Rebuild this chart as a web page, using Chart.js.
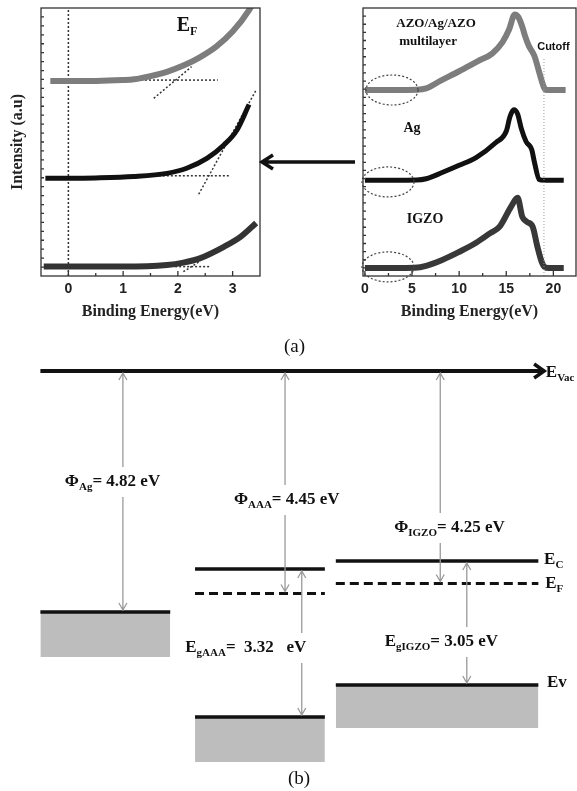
<!DOCTYPE html>
<html>
<head>
<meta charset="utf-8">
<script src="https://cdn.jsdelivr.net/npm/chart.js@4.4.0/dist/chart.umd.min.js"></script>
<style>
  html, body { margin: 0; padding: 0; background: #fff; }
  #page { position: relative; width: 577px; height: 791px; overflow: hidden; }
  .box { position: absolute; }
  .cap { position: absolute; font-family: "Liberation Serif", "Times New Roman", serif; font-size: 19px; line-height: 20px; color: #111; }
</style>
</head>
<body>
<div id="page">
  <div class="box" style="left:0;top:0"><canvas id="onsetChart" width="365" height="330"></canvas></div>
  <div class="box" style="left:290px;top:0"><canvas id="cutoffChart" width="287" height="330"></canvas></div>
  <div class="box" style="left:0;top:335px"><canvas id="bandChart" width="577" height="456"></canvas></div>
  <div class="cap" style="left:284px;top:336px">(a)</div>
  <div class="cap" style="left:288px;top:768px">(b)</div>
</div>
<script>
// (a) left: onset near E_F, binding energy (eV) / intensity (a.u.)
const onsetAzoE = [-0.33, 0, 0.5, 1.0, 1.2, 1.5, 1.8, 2.1, 2.4, 2.7, 3.0, 3.3, 3.4];
const onsetAzoI = [72.8, 72.8, 72.8, 73.1, 73.4, 74.6, 76.2, 78.5, 81.6, 85.6, 91.2, 99.2, 103];
const onsetAgE = [-0.42, 0, 0.5, 1.2, 1.8, 2.16, 2.53, 2.84, 3.08, 3.3];
const onsetAgI = [36.5, 36.5, 36.6, 37.1, 38.3, 40.2, 43.9, 48.9, 54.5, 64];
const onsetIgzoE = [-0.45, 0, 1.0, 1.8, 2.1, 2.4, 2.84, 3.15, 3.43];
const onsetIgzoI = [3.5, 3.5, 3.5, 4.1, 5, 6.6, 10.9, 14.7, 19.8];
// dotted extrapolation lines [start, end]
const tangentE = [[1.18, 2.73], [1.56, 2.25], [1.36, 2.95], [2.38, 3.43], [1.95, 2.6], [2.1, 2.39]];
const tangentI = [[73.1, 73.1], [66.3, 78.1], [37.4, 37.4], [30.5, 69.4], [3.5, 3.5], [1.6, 5.3]];
const onsetTicks = [0, 0.5, 1, 1.5, 2, 2.5, 3];

// (a) right: full spectra with secondary electron cutoff
const specAzoE = [0, 3, 5.5, 6.5, 8, 10, 12, 13.5, 14.6, 15.3, 15.9, 16.3, 16.7, 17.0, 17.4, 18.0, 18.5, 19.0, 19.3, 20, 21.3];
const specAzoI = [69.4, 69.4, 69.5, 70, 72.8, 76.4, 80.2, 83, 87.3, 92, 97.6, 96.5, 93, 89.5, 85.8, 82, 76, 70.4, 69.4, 69.4, 69.4];
const specAgE = [0, 3, 5.5, 6.5, 8.2, 10, 11.8, 13.9, 15, 15.4, 15.8, 16.2, 16.6, 17.1, 17.7, 18.0, 18.5, 19, 20, 21.1];
const specAgI = [35.7, 35.7, 35.8, 36.3, 38.6, 41.3, 44.2, 49.8, 54, 59.5, 62, 60.5, 55, 50.2, 47.2, 42.3, 36, 35.7, 35.7, 35.7];
const specIgzoE = [0, 3, 5.3, 6.5, 8.2, 10, 11.8, 13.3, 14.3, 15.5, 16.2, 16.7, 17.2, 17.8, 18.3, 18.8, 19.2, 20, 21.1];
const specIgzoI = [3, 3, 3.1, 3.8, 6, 9, 12.4, 16, 18.4, 25.8, 29.2, 22.1, 20.2, 18.4, 11, 4.9, 3.1, 3, 3];
const cutoffE = 19;
const specTicks = [0, 2.5, 5, 7.5, 10, 12.5, 15, 17.5, 20];

// (b) band diagram, energies in eV below vacuum level
const bandNames = ['Ag', 'AAA', 'IGZO'];
const workFunc = [4.82, 4.45, 4.25];
const bandGap = [null, 3.32, 3.05];
const levelEc = [null, -3.96, -3.8];
const levelEv = [null, -6.92, -6.28];
const blockBottom = [-5.72, -7.82, -7.14];
const colLeft = [0.7, 3.38, 5.82];
const colRight = [2.95, 5.63, 9.33];

const serif = '"Liberation Serif", "Times New Roman", serif';
const sans = '"Liberation Sans", Arial, sans-serif';

function pts(xs, ys) { return xs.map((v, i) => ({ x: v, y: ys[i] })); }
function seg(x0, x1, yv) { return [{ x: x0, y: yv }, { x: x1, y: yv }]; }

function richText(ctx, x, y, parts, size, align) {
  // parts alternate: normal, subscript, normal ...
  ctx.save();
  ctx.textBaseline = 'middle';
  ctx.fillStyle = '#111';
  const fonts = parts.map((p, i) => 'bold ' + (i % 2 ? Math.round(size * 0.62) : size) + 'px ' + serif);
  const widths = parts.map((p, i) => { ctx.font = fonts[i]; return ctx.measureText(p).width; });
  let cx = x;
  if (align === 'center') cx -= widths.reduce((s, w) => s + w, 0) / 2;
  parts.forEach((p, i) => {
    ctx.font = fonts[i];
    ctx.fillText(p, cx, y + (i % 2 ? size * 0.3 : 0));
    cx += widths[i];
  });
  ctx.restore();
}

function frameTicks(chart, yDivs) {
  const { ctx, chartArea: a, scales: { x, y } } = chart;
  ctx.save();
  ctx.strokeStyle = '#333';
  ctx.lineWidth = 1.3;
  ctx.strokeRect(a.left, a.top, a.right - a.left, a.bottom - a.top);
  ctx.beginPath();
  x.ticks.forEach(t => {
    const px = x.getPixelForValue(t.value);
    const len = t.label !== '' ? 5 : 3;
    ctx.moveTo(px, a.bottom); ctx.lineTo(px, a.bottom - len);
  });
  for (let i = 1; i < yDivs; i++) {
    const py = y.getPixelForValue(y.min + (y.max - y.min) * i / yDivs);
    ctx.moveTo(a.left, py); ctx.lineTo(a.left + 3, py);
  }
  ctx.stroke();
  ctx.restore();
}

function xAxis(min, max, ticks, every) {
  return {
    type: 'linear', min: min, max: max,
    afterBuildTicks: s => { s.ticks = ticks.map(v => ({ value: v })); },
    afterFit: s => { s.height = 49; },
    grid: { display: false, drawTicks: false },
    border: { display: false },
    ticks: {
      autoSkip: false, maxRotation: 0, padding: 5, color: '#222',
      font: { family: sans, size: 14, weight: 'bold' },
      callback: v => (v % every === 0 ? v : '')
    },
    title: { display: true, text: 'Binding Energy(eV)', color: '#222', font: { family: serif, size: 16, weight: 'bold' }, padding: { top: 0, bottom: 4 } }
  };
}

const curve = (data, color, w) => ({ data: data, borderColor: color, borderWidth: w, pointRadius: 0, cubicInterpolationMode: 'monotone', fill: false });
const dotted = (data, w) => ({ data: data, borderColor: '#333', borderWidth: w || 1.5, borderDash: [2, 2], pointRadius: 0, fill: false });

// ---------- left chart ----------
const onsetSets = [
  curve(pts(onsetAzoE, onsetAzoI), '#7d7d7d', 6),
  curve(pts(onsetAgE, onsetAgI), '#111', 5),
  curve(pts(onsetIgzoE, onsetIgzoI), '#333', 6),
  dotted(pts([0, 0], [0, 100]))
];
tangentE.forEach((e, i) => onsetSets.push(dotted(pts(e, tangentI[i]))));

new Chart(document.getElementById('onsetChart'), {
  type: 'line',
  data: { datasets: onsetSets },
  options: {
    responsive: false, animation: false, events: [],
    layout: { padding: { left: 0, top: 8, right: 105, bottom: 5 } },
    plugins: { legend: { display: false }, tooltip: { enabled: false } },
    scales: {
      x: xAxis(-0.5, 3.5, onsetTicks, 1),
      y: {
        type: 'linear', min: 0, max: 100,
        afterFit: s => { s.width = 41; },
        grid: { display: false, drawTicks: false }, border: { display: false },
        ticks: { display: false },
        title: { display: true, text: 'Intensity (a.u)', color: '#222', font: { family: serif, size: 16, weight: 'bold' }, padding: { top: 8, bottom: 0 } }
      }
    }
  },
  plugins: [{
    id: 'onsetDeco',
    afterDatasetsDraw(chart) {
      const { ctx, chartArea: a, scales: { x, y } } = chart;
      frameTicks(chart, 30);
      richText(ctx, x.getPixelForValue(1.98), y.getPixelForValue(93.5), ['E', 'F'], 20, 'left');
      // arrow from the right panel
      const ay = y.getPixelForValue(42.5);
      ctx.save();
      ctx.strokeStyle = '#111';
      ctx.lineWidth = 3.5;
      ctx.beginPath();
      ctx.moveTo(a.right + 95, ay); ctx.lineTo(a.right + 3, ay);
      ctx.moveTo(a.right + 13, ay - 7); ctx.lineTo(a.right + 2, ay); ctx.lineTo(a.right + 13, ay + 7);
      ctx.stroke();
      ctx.restore();
    }
  }]
});

// ---------- right chart ----------
const circles = [[2.88, 69.4], [2.45, 35.1], [2.45, 3.4]];

new Chart(document.getElementById('cutoffChart'), {
  type: 'line',
  data: {
    datasets: [
      { data: pts([cutoffE, cutoffE], [0, 81]), borderColor: '#999', borderWidth: 1, borderDash: [1, 2], pointRadius: 0 },
      curve(pts(specAzoE, specAzoI), '#7d7d7d', 6),
      curve(pts(specAgE, specAgI), '#111', 5),
      curve(pts(specIgzoE, specIgzoI), '#383838', 6)
    ]
  },
  options: {
    responsive: false, animation: false, events: [],
    layout: { padding: { left: 73, top: 8, right: 1, bottom: 5 } },
    plugins: { legend: { display: false }, tooltip: { enabled: false } },
    scales: {
      x: xAxis(-0.2, 22.4, specTicks, 5),
      y: { type: 'linear', min: 0, max: 100, display: false }
    }
  },
  plugins: [{
    id: 'cutoffDeco',
    afterDatasetsDraw(chart) {
      const { ctx, scales: { x, y } } = chart;
      frameTicks(chart, 33);
      ctx.save();
      ctx.strokeStyle = '#444';
      ctx.lineWidth = 1.2;
      ctx.setLineDash([2, 2]);
      circles.forEach(c => {
        const cx = x.getPixelForValue(c[0]), cy = y.getPixelForValue(c[1]);
        const rx = x.getPixelForValue(c[0] + 2.76) - cx;
        const ry = cy - y.getPixelForValue(c[1] + 5.6);
        ctx.beginPath();
        ctx.ellipse(cx, cy, rx, ry, 0, 0, Math.PI * 2);
        ctx.stroke();
      });
      ctx.restore();
      richText(ctx, x.getPixelForValue(7.55), y.getPixelForValue(94), ['AZO/Ag/AZO'], 13, 'center');
      richText(ctx, x.getPixelForValue(6.7), y.getPixelForValue(87.3), ['multilayer'], 13, 'center');
      richText(ctx, x.getPixelForValue(5.0), y.getPixelForValue(55.2), ['Ag'], 14, 'center');
      richText(ctx, x.getPixelForValue(6.38), y.getPixelForValue(21.3), ['IGZO'], 14, 'center');
      ctx.save();
      ctx.font = 'bold 11px ' + sans;
      ctx.fillStyle = '#111';
      ctx.textAlign = 'center';
      ctx.textBaseline = 'middle';
      ctx.fillText('Cutoff', x.getPixelForValue(20.0), y.getPixelForValue(85.4));
      ctx.restore();
    }
  }]
});

// ---------- band diagram ----------
const level = (data, w, dash) => ({ data: data, borderColor: '#111', borderWidth: w, borderDash: dash || [], pointRadius: 0, fill: false });
const block = (data, bottom) => ({ data: data, borderColor: '#111', borderWidth: 3.5, pointRadius: 0, backgroundColor: '#bdbdbd', fill: { value: bottom } });

const bandSets = [level(seg(0.7, 9.43, 0), 4)];
bandNames.forEach((n, i) => {
  if (levelEc[i] === null) {
    bandSets.push(block(seg(colLeft[i], colRight[i], -workFunc[i]), blockBottom[i]));
  } else {
    bandSets.push(level(seg(colLeft[i], colRight[i], levelEc[i]), 3.5));
    bandSets.push(level(seg(colLeft[i], colRight[i], -workFunc[i]), 3, [9, 5]));
    bandSets.push(block(seg(colLeft[i], colRight[i], levelEv[i]), blockBottom[i]));
  }
});

// arrows: x position, top level, bottom level, label position
const arrowX = [2.13, 4.94, 7.63, 5.23, 8.09];
const arrowTop = [0, 0, 0, levelEc[1], levelEc[2]];
const arrowBot = [-workFunc[0], -workFunc[1], -workFunc[2], levelEv[1], levelEv[2]];
const labelX = [1.95, 4.97, 7.79, 4.26, 7.65];
const labelY = [-2.22, -2.58, -3.14, -5.54, -5.42];
const labelParts = [
  ['\u03A6', 'Ag', '= ' + workFunc[0].toFixed(2) + ' eV'],
  ['\u03A6', 'AAA', '= ' + workFunc[1].toFixed(2) + ' eV'],
  ['\u03A6', 'IGZO', '= ' + workFunc[2].toFixed(2) + ' eV'],
  ['E', 'gAAA', '=  ' + bandGap[1].toFixed(2) + '   eV'],
  ['E', 'gIGZO', '= ' + bandGap[2].toFixed(2) + ' eV']
];

new Chart(document.getElementById('bandChart'), {
  type: 'line',
  data: { datasets: bandSets },
  options: {
    responsive: false, animation: false, events: [],
    layout: { padding: 0 },
    plugins: { legend: { display: false }, tooltip: { enabled: false } },
    scales: {
      x: { type: 'linear', min: 0, max: 10, display: false },
      y: { type: 'linear', min: -8.4, max: 0.72, display: false }
    }
  },
  plugins: [{
    id: 'bandDeco',
    afterDatasetsDraw(chart) {
      const { ctx, scales: { x, y } } = chart;
      ctx.save();
      // vacuum level arrowhead
      const vx = x.getPixelForValue(9.43), vy = y.getPixelForValue(0);
      ctx.strokeStyle = '#111';
      ctx.lineWidth = 3.5;
      ctx.beginPath();
      ctx.moveTo(vx - 10, vy - 7); ctx.lineTo(vx, vy); ctx.lineTo(vx - 10, vy + 7);
      ctx.stroke();
      // gray double arrows with a gap for the label
      ctx.strokeStyle = '#9a9a9a';
      ctx.lineWidth = 1.3;
      arrowX.forEach((ax, i) => {
        const px = x.getPixelForValue(ax);
        const t = y.getPixelForValue(arrowTop[i]) + 2;
        const b = y.getPixelForValue(arrowBot[i]) - 2;
        const m = y.getPixelForValue(labelY[i]);
        ctx.beginPath();
        ctx.moveTo(px, t); ctx.lineTo(px, m - 15);
        ctx.moveTo(px, m + 15); ctx.lineTo(px, b);
        ctx.moveTo(px - 4, t + 7); ctx.lineTo(px, t); ctx.lineTo(px + 4, t + 7);
        ctx.moveTo(px - 4, b - 7); ctx.lineTo(px, b); ctx.lineTo(px + 4, b - 7);
        ctx.stroke();
      });
      ctx.restore();
      labelParts.forEach((p, i) => richText(ctx, x.getPixelForValue(labelX[i]), y.getPixelForValue(labelY[i]), p, 17, 'center'));
      richText(ctx, x.getPixelForValue(9.46), y.getPixelForValue(-0.04), ['E', 'Vac'], 17, 'left');
      richText(ctx, x.getPixelForValue(9.43), y.getPixelForValue(-3.78), ['E', 'C'], 17, 'left');
      richText(ctx, x.getPixelForValue(9.45), y.getPixelForValue(-4.26), ['E', 'F'], 17, 'left');
      richText(ctx, x.getPixelForValue(9.48), y.getPixelForValue(-6.24), ['Ev'], 17, 'left');
    }
  }]
});
</script>
</body>
</html>
